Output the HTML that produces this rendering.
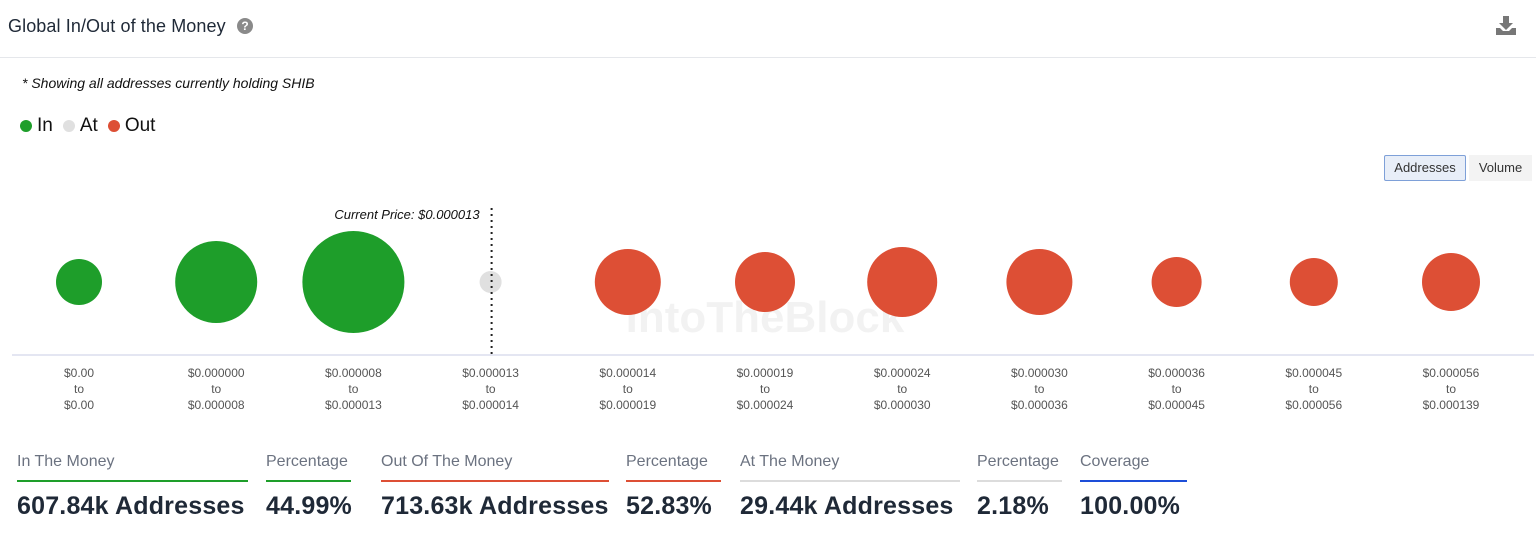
<!DOCTYPE html>
<html><head><meta charset="utf-8"><style>
body{margin:0;width:1536px;height:537px;background:#fff;font-family:"Liberation Sans",sans-serif;position:relative;overflow:hidden}
.a{position:absolute}
.lbl{font-size:16px;color:#6b7280}
.val{font-size:25px;color:#1f2937;font-weight:bold;letter-spacing:0.2px}
.ul{height:2px}
</style></head><body>
<div class="a" style="left:8px;top:16px;font-size:18px;letter-spacing:0.1px;color:#1f2937">Global In/Out of the Money</div>
<div class="a" style="left:237px;top:18px;width:16px;height:16px;border-radius:50%;background:#8a8a8a;color:#fff;font-size:12px;font-weight:bold;text-align:center;line-height:16px">?</div>
<svg class="a" style="left:1495px;top:15px" width="22" height="22" viewBox="0 0 22 22"><path d="M8 1h6v7h4l-7 7-7-7h4z" fill="#777"/><path d="M1 13h4l3 3h6l3-3h4v7H1z" fill="#777"/></svg>
<div class="a" style="left:0;top:57px;width:1536px;height:1px;background:#e5e7eb"></div>
<div class="a" style="left:22px;top:75px;font-size:14px;font-style:italic;color:#111">* Showing all addresses currently holding SHIB</div>
<div class="a" style="left:20px;top:115px;font-size:19px;color:#111;display:flex;align-items:center">
<span style="display:flex;align-items:center"><span style="width:12px;height:12px;border-radius:50%;background:#1e9e2a;display:inline-block;margin-right:5px"></span>In</span>
<span style="display:flex;align-items:center;margin-left:10px"><span style="width:12px;height:12px;border-radius:50%;background:#e0e0e0;display:inline-block;margin-right:5px"></span>At</span>
<span style="display:flex;align-items:center;margin-left:10px"><span style="width:12px;height:12px;border-radius:50%;background:#dd4f35;display:inline-block;margin-right:5px"></span>Out</span>
</div>
<div class="a" style="left:1384px;top:155px;width:80px;height:24px;border:1px solid #7ea0d8;background:#e8eef8;border-radius:2px;font-size:13px;color:#333;text-align:center;line-height:24px">Addresses</div>
<div class="a" style="left:1469px;top:155px;width:63px;height:26px;background:#f3f3f3;font-size:13px;color:#333;text-align:center;line-height:26px">Volume</div>
<svg id="chart" class="a" style="left:0;top:190px" width="1536" height="240"></svg>
<div id="stats"></div>
<script>
const categoriesFrom=["$0.00","$0.000000","$0.000008","$0.000013","$0.000014","$0.000019","$0.000024","$0.000030","$0.000036","$0.000045","$0.000056"];
const categoriesTo=["$0.00","$0.000008","$0.000013","$0.000014","$0.000019","$0.000024","$0.000030","$0.000036","$0.000045","$0.000056","$0.000139"];
const addressesK=[66.8,212.4,328.6,15.3,137.5,113.7,154.7,137.5,79,72.8,106.2];
const status=["in","in","in","at","out","out","out","out","out","out","out"];
const currentPriceLabel="Current Price: $0.000013";
const colors={in:"#1e9e2a",at:"#e0e0e0",out:"#dd4f35"};
const NS="http://www.w3.org/2000/svg";
const svg=document.getElementById("chart");
const xPos=i=>79+i*137.2;
const rad=v=>Math.sqrt(v)*2.814;
const cy=92;
function mk(t,a){const e=document.createElementNS(NS,t);for(const k in a)e.setAttribute(k,a[k]);svg.appendChild(e);return e;}
const wm=mk("text",{x:765,y:142,"text-anchor":"middle","font-size":"44","font-weight":"bold",fill:"#000","fill-opacity":"0.05","font-family":"Liberation Sans"});
wm.textContent="IntoTheBlock";


const ax=mk("line",{x1:12,x2:1534,y1:165,y2:165,stroke:"#c8cde6","stroke-width":1});


addressesK.forEach((v,i)=>{
 const c=mk("circle",{cx:xPos(i),cy:cy,r:rad(v),fill:colors[status[i]]});
 
 
 [categoriesFrom[i],"to",categoriesTo[i]].forEach((s,j)=>{
  const t=mk("text",{x:xPos(i),y:187+j*16,"text-anchor":"middle","font-size":"12",fill:"#555","font-family":"Liberation Sans"});
  t.textContent=s;
  
  
 });
});
const px=xPos(3)+1;
const pl=mk("line",{x1:px,x2:px,y1:18,y2:165,stroke:"#222","stroke-width":2,"stroke-dasharray":"2,4"});


const pt=mk("text",{x:px-12,y:29,"text-anchor":"end","font-size":"13","font-style":"italic",fill:"#111","font-family":"Liberation Sans"});
pt.textContent=currentPriceLabel;



const statLabels=["In The Money","Percentage","Out Of The Money","Percentage","At The Money","Percentage","Coverage"];
const statValues=["607.84k Addresses","44.99%","713.63k Addresses","52.83%","29.44k Addresses","2.18%","100.00%"];
const statX=[17,266,381,626,740,977,1080];
const statW=[231,85,228,95,220,85,107];
const statC=["#1e9e2a","#1e9e2a","#dd4f35","#dd4f35","#dcdcdc","#dcdcdc","#1d4ed8"];
const st=document.getElementById("stats");
statLabels.forEach((l,i)=>{
 const d=document.createElement("div");
 d.className="a";d.style.left=statX[i]+"px";d.style.top="453px";
 
 
 d.innerHTML='<div class="lbl">'+l+'</div><div class="ul" style="width:'+statW[i]+'px;background:'+statC[i]+';margin-top:9px"></div><div class="val" style="margin-top:10px;white-space:nowrap">'+statValues[i]+'</div>';
 st.appendChild(d);
});
</script>
</body></html>
